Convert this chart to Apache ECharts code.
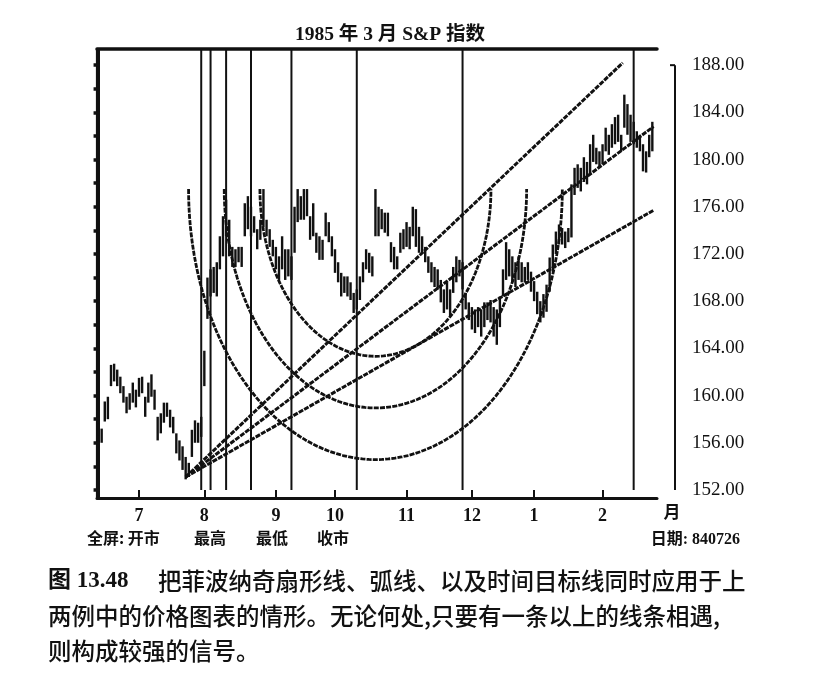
<!DOCTYPE html>
<html><head><meta charset="utf-8">
<script src="https://cdn.jsdelivr.net/npm/echarts@6/dist/echarts.min.js"></script>
<style>html,body{margin:0;padding:0;background:#fff}#c{width:825px;height:674px}</style>
</head><body><div id="c"></div>
<script>
// ---- data ----
const startDate = [1984, 6, 13];
const endDate = [1985, 2, 27];
const holidays = ['1984-07-04','1984-09-03','1984-11-22','1984-12-25','1985-01-01','1985-02-18'];
const lows = [156.6,156.0,157.8,158.0,160.8,161.2,160.8,160.2,159.4,158.5,158.8,159.4,159.0,159.9,160.2,158.2,159.4,159.9,158.8,156.2,
156.8,157.7,158.2,157.3,156.8,155.1,154.5,153.7,152.9,153.1,154.8,156.0,156.0,156.5,160.8,166.5,168.4,168.7,168.4,170.7,
171.8,173.5,171.8,170.9,170.9,171.3,170.9,173.5,174.1,173.5,173.8,172.4,173.2,174.3,173.5,172.6,171.8,170.7,169.8,170.7,
169.8,170.1,169.8,172.1,174.7,174.9,174.9,175.2,173.2,173.5,172.1,171.5,171.5,173.5,173.0,171.8,170.4,169.6,168.4,168.7,
168.4,168.1,167.0,167.3,168.1,169.6,170.7,170.4,170.1,173.5,173.5,174.1,173.8,173.5,171.3,170.7,170.7,172.1,172.4,172.6,
172.4,173.5,172.6,172.1,172.1,171.3,170.4,169.6,169.2,169.0,167.9,167.0,167.3,166.7,168.7,169.6,170.1,169.0,167.3,166.4,
165.6,165.3,165.8,165.0,165.8,166.4,166.2,165.0,164.3,165.8,168.4,169.8,170.1,169.6,169.2,169.8,169.6,169.6,169.8,168.8,
168.0,166.9,166.2,166.6,167.1,168.8,170.5,172.0,172.8,172.8,172.5,173.0,173.4,177.0,177.6,177.3,178.1,177.9,178.7,179.8,
179.6,179.3,179.6,180.7,180.4,181.0,181.3,181.5,180.7,182.7,182.1,181.5,181.3,181.0,180.7,179.0,178.9,180.2,180.7];
const highs = [157.6,157.2,159.5,159.9,162.6,162.7,162.2,161.6,160.8,159.9,160.2,161.1,160.5,161.5,161.6,159.9,161.1,161.8,160.5,158.2,
158.5,159.4,159.4,158.8,158.2,156.8,156.2,155.7,154.8,154.3,157.1,157.9,157.7,158.2,163.8,170.0,170.7,170.9,171.3,173.5,
175.2,176.6,174.9,172.6,172.4,172.6,172.6,176.3,176.9,176.0,175.2,174.1,174.9,177.5,174.9,174.1,173.2,172.6,171.8,173.5,
172.4,172.4,171.8,176.0,177.5,176.9,177.5,177.5,175.2,176.3,173.8,173.5,173.2,175.5,174.7,173.5,172.4,171.3,170.4,170.1,
170.1,169.6,168.7,169.0,170.1,171.3,172.4,172.1,171.8,177.5,176.0,175.8,175.5,175.5,173.0,172.6,171.8,173.8,174.1,174.7,
174.3,176.0,175.8,174.3,173.5,172.6,171.8,171.3,170.9,170.7,169.8,169.0,169.6,169.0,170.9,171.8,171.5,171.3,168.7,167.9,
167.5,167.3,167.5,167.3,167.9,167.9,168.1,167.5,167.3,168.4,170.7,173.0,172.4,171.8,171.3,171.8,171.3,170.9,171.3,170.5,
169.7,168.8,168.0,168.6,169.4,171.7,172.8,173.9,174.5,174.2,173.9,174.2,177.9,179.3,179.6,179.3,180.2,179.8,181.3,182.1,
181.0,180.7,181.3,182.7,182.1,183.0,183.6,183.8,182.1,185.5,184.7,183.8,183.2,182.4,182.1,181.3,180.7,182.1,183.2];
const yTickLabels = [152,156,160,164,168,172,176,180,184,188];
const yMinorTicks = [152,154,156,158,160,162,164,166,168,170,172,174,176,178,180,182,184,186,188];
const fanOrigin = [28, 153.1];
const fanEnds = [[168.5, 188.2], [178.4, 182.8], [178.4, 175.7]];
const arcCenter = [89, 177.5];
const arcRadius = [97.2, 37.1];
const arcRatios = [0.382, 0.5, 0.618];
const timeLines = [33, 36, 41, 49, 62, 83, 117, 172];
const yMin = 151.32, yMax = 189.37;

// ---- build categories (trading days) ----
function pad(n){return (n<10?'0':'')+n;}
const categories = [];
(function(){
  let t = Date.UTC(startDate[0], startDate[1]-1, startDate[2]);
  const end = Date.UTC(endDate[0], endDate[1]-1, endDate[2]);
  while (t <= end) {
    const d = new Date(t);
    const s = d.getUTCFullYear()+'-'+pad(d.getUTCMonth()+1)+'-'+pad(d.getUTCDate());
    const wd = d.getUTCDay();
    if (wd !== 0 && wd !== 6 && holidays.indexOf(s) < 0) categories.push(s);
    t += 86400000;
  }
})();
const N = categories.length;
const isMonthStart = (idx) => idx > 0 && categories[idx].slice(5,7) !== categories[idx-1].slice(5,7);

const INK = '#111';
const serif = '"Liberation Serif","Noto Sans CJK SC",serif';
const cjk = '"Noto Sans CJK SC","Liberation Serif",sans-serif';

function arcPoints(r){
  const pts = [];
  const steps = 90;
  for (let k = 0; k <= steps; k++) {
    const t = Math.PI + Math.PI * k / steps;
    pts.push([arcCenter[0] + r*arcRadius[0]*Math.cos(t), arcCenter[1] + r*arcRadius[1]*Math.sin(t)]);
  }
  return pts;
}

const series = [];
series.push({
  type: 'custom', xAxisIndex: 1, yAxisIndex: 0, silent: true,
  data: timeLines.map(i => [i]),
  renderItem(params, api){
    const a = api.coord([api.value(0), 152]);
    const b = api.coord([api.value(0), yMax]);
    return {type:'line', shape:{x1:a[0],y1:a[1],x2:b[0],y2:b[1]}, style:{stroke:INK, lineWidth:2}};
  }
});
series.push({
  type: 'custom', xAxisIndex: 1, yAxisIndex: 0, silent: true,
  data: lows.map((l,i) => [i, l, highs[i]]),
  encode: {x: 0, y: [1, 2]},
  renderItem(params, api){
    const a = api.coord([api.value(0), api.value(1)]);
    const b = api.coord([api.value(0), api.value(2)]);
    return {type:'line', shape:{x1:a[0],y1:a[1],x2:b[0],y2:b[1]}, style:{stroke:INK, lineWidth:2.4}};
  }
});
fanEnds.forEach(e => series.push({
  type:'line', xAxisIndex:1, yAxisIndex:0, silent:true, showSymbol:false, symbol:'none',
  data:[fanOrigin, e], lineStyle:{color:INK, width:3, type:[5,1.2]}
}));
arcRatios.forEach(r => series.push({
  type:'line', xAxisIndex:1, yAxisIndex:0, silent:true, showSymbol:false, symbol:'none',
  data: arcPoints(r), lineStyle:{color:INK, width:2.8, type:[5,1.2]}
}));

const chart = echarts.init(document.getElementById('c'), null, {renderer:'canvas'});
chart.setOption({
  backgroundColor:'#fff',
  animation:false,
  grid:{left:97, right:168, top:49, bottom:176, containLabel:false, outerBoundsMode:'none'},
  xAxis:[
    {type:'category', data:categories, position:'bottom', boundaryGap:true,
     axisLine:{show:true, lineStyle:{color:INK, width:3}},
     axisTick:{show:true, inside:true, length:8, alignWithLabel:true, interval:isMonthStart, lineStyle:{color:INK, width:2}},
     axisLabel:{show:true, interval:isMonthStart, margin:9, formatter:v => String(+v.slice(5,7)),
       fontFamily:serif, fontWeight:'bold', fontSize:18, color:INK},
     splitLine:{show:false}},
    {type:'value', position:'top', min:-0.5, max:N-0.5,
     axisLine:{show:true, onZero:false, lineStyle:{color:INK, width:3.5}},
     axisTick:{show:false}, axisLabel:{show:false}, splitLine:{show:false}}
  ],
  yAxis:[
    {type:'value', position:'right', offset:13, min:yMin, max:yMax,
     axisLine:{show:true, lineStyle:{color:INK, width:2}},
     axisTick:{show:true, inside:true, length:5, customValues:yMinorTicks, lineStyle:{color:INK, width:3.5}},
     axisLabel:{show:true, customValues:yTickLabels, margin:22, formatter:v => Number(v).toFixed(2),
       fontFamily:serif, fontSize:19, color:INK},
     splitLine:{show:false}},
    {type:'value', position:'left', min:yMin, max:yMax,
     axisLine:{show:true, onZero:false, lineStyle:{color:INK, width:2.2}},
     axisTick:{show:true, inside:false, length:3, customValues:yMinorTicks, lineStyle:{color:INK, width:3.5}},
     axisLabel:{show:false}, splitLine:{show:false}},
    {type:'value', position:'left', min:yMin, max:yMax,
     axisLine:{show:false},
     axisTick:{show:true, inside:true, length:3, customValues:yMinorTicks, lineStyle:{color:INK, width:3.5}},
     axisLabel:{show:false}, splitLine:{show:false}}
  ],
  series: series
});

// extra bracket line beside the right axis and text labels
const yTop = chart.convertToPixel({yAxisIndex:0}, yTickLabels[yTickLabels.length-1]);
const yBot = chart.convertToPixel({yAxisIndex:0}, yTickLabels[0]);
const axisX = 825 - 168 + 13;
function txt(text, x, y, align, font){
  return {type:'text', x:x, y:y, silent:true, style:{text:text, align:align, verticalAlign:'middle', font:font, fill:INK}};
}
chart.setOption({
  graphic:[
    {type:'line', silent:true, shape:{x1:axisX+5, y1:yTop, x2:axisX+5, y2:yBot}, style:{stroke:INK, lineWidth:2}},
    {type:'line', silent:true, shape:{x1:axisX, y1:yTop, x2:axisX+5, y2:yTop}, style:{stroke:INK, lineWidth:2}},
    txt('1985 年 3 月 S&P 指数', 390, 35, 'center', 'bold 19.5px '+serif),
    txt('月', 672, 512, 'center', 'bold 17px '+cjk),
    txt('全屏: 开市', 87, 538, 'left', 'bold 16px '+cjk),
    txt('最高', 210, 538, 'center', 'bold 16px '+cjk),
    txt('最低', 272, 538, 'center', 'bold 16px '+cjk),
    txt('收市', 333, 538, 'center', 'bold 16px '+cjk),
    txt('日期: 840726', 740, 540, 'right', 'bold 16px '+serif),
    txt('图 13.48', 48, 581, 'left', 'bold 23px '+serif),
    txt('把菲波纳奇扇形线、弧线、以及时间目标线同时应用于上', 158, 581, 'left', '500 23.5px '+cjk),
    txt('两例中的价格图表的情形。无论何处,只要有一条以上的线条相遇,', 48, 616, 'left', '500 23.5px '+cjk),
    txt('则构成较强的信号。', 48, 651, 'left', '500 23.5px '+cjk)
  ]
});
</script></body></html>
